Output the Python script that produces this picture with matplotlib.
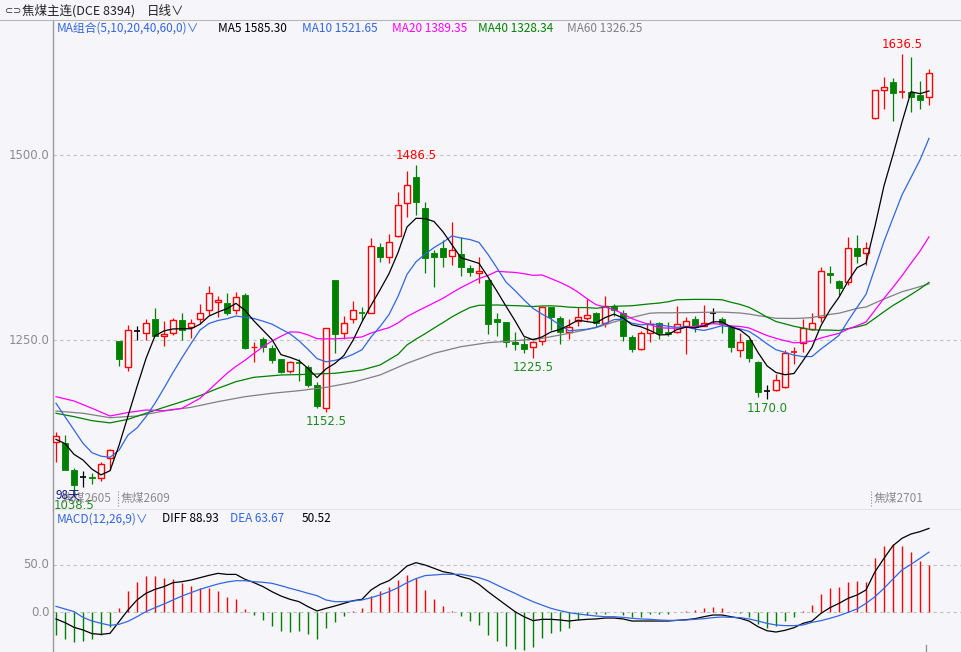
import matplotlib
matplotlib.use('Agg')
import matplotlib.pyplot as plt
from matplotlib.patches import Rectangle
import numpy as np

plt.rcParams['font.family'] = ['Noto Sans CJK SC', 'DejaVu Sans']

# ---------------- data ----------------
open_ = [1111.7, 1110.4, 1074.3, 1064.5, 1065.0, 1063.0, 1090.0, 1248.0, 1214.0, 1262.0,
         1259.0, 1278.4, 1255.0, 1259.0, 1277.0, 1267.0, 1279.0, 1290.5, 1301.0, 1299.6,
         1290.5, 1310.8, 1240.0, 1251.0, 1238.7, 1224.3, 1208.5, 1219.0, 1214.0, 1189.0,
         1158.0, 1331.0, 1259.0, 1278.0, 1286.5, 1287.0, 1376.0, 1362.6, 1391.0, 1435.6,
         1470.0, 1429.0, 1368.0, 1374.0, 1364.0, 1366.0, 1347.0, 1340.0, 1331.0, 1279.0,
         1274.0, 1247.7, 1244.6, 1241.0, 1248.6, 1294.0, 1280.0, 1261.0, 1275.7, 1280.0,
         1286.0, 1272.5, 1296.0, 1286.0, 1253.6, 1238.3, 1259.0, 1272.5, 1261.0, 1261.0,
         1269.4, 1278.4, 1269.4, 1286.0, 1279.0, 1269.0, 1236.5, 1250.0, 1220.7, 1181.5,
         1182.4, 1187.0, 1233.5, 1245.5, 1265.0, 1280.7, 1340.0, 1329.7, 1329.0, 1374.0,
         1367.0, 1550.4, 1587.8, 1599.0, 1584.5, 1584.7, 1581.0, 1579.0]
high = [1125.2, 1122.0, 1077.0, 1073.0, 1070.7, 1085.5, 1103.0, 1249.0, 1270.0, 1269.3,
        1279.0, 1292.8, 1275.7, 1280.0, 1286.0, 1278.0, 1298.6, 1323.0, 1309.5, 1313.0,
        1314.5, 1313.0, 1247.7, 1254.5, 1243.0, 1225.0, 1222.0, 1224.0, 1216.0, 1193.7,
        1266.0, 1331.0, 1282.4, 1302.7, 1295.0, 1387.4, 1380.7, 1393.0, 1450.4, 1478.4,
        1486.5, 1437.0, 1372.0, 1385.0, 1409.0, 1389.6, 1352.0, 1362.6, 1333.0, 1286.0,
        1275.0, 1261.0, 1254.5, 1249.0, 1295.0, 1295.0, 1282.0, 1278.0, 1294.0, 1305.0,
        1288.0, 1309.5, 1298.0, 1290.5, 1256.7, 1262.6, 1277.0, 1274.0, 1274.0, 1296.0,
        1281.5, 1283.0, 1297.0, 1292.8, 1281.0, 1270.0, 1259.0, 1251.0, 1222.0, 1189.0,
        1204.0, 1236.5, 1240.0, 1278.0, 1286.0, 1348.0, 1350.0, 1331.0, 1389.0, 1392.0,
        1383.0, 1588.5, 1605.0, 1604.5, 1636.5, 1633.0, 1600.0, 1616.0]
low = [1085.5, 1074.0, 1038.5, 1051.0, 1055.0, 1060.0, 1074.0, 1215.0, 1208.5, 1250.0,
       1250.0, 1255.0, 1242.0, 1256.7, 1250.0, 1253.0, 1271.6, 1284.0, 1281.5, 1284.0,
       1285.0, 1238.0, 1220.7, 1234.0, 1218.5, 1206.0, 1205.0, 1195.0, 1187.0, 1158.0,
       1152.5, 1233.0, 1251.0, 1272.5, 1277.0, 1286.0, 1356.0, 1354.5, 1389.0, 1416.0,
       1419.0, 1340.0, 1322.0, 1348.0, 1351.0, 1336.5, 1336.5, 1326.6, 1258.0, 1256.0,
       1241.0, 1236.5, 1232.0, 1225.5, 1243.0, 1263.5, 1244.0, 1252.0, 1269.0, 1277.0,
       1268.0, 1268.0, 1282.4, 1249.0, 1234.0, 1237.0, 1247.7, 1252.0, 1255.0, 1260.0,
       1231.0, 1261.0, 1269.0, 1272.5, 1260.0, 1234.0, 1227.6, 1220.7, 1172.5, 1170.0,
       1181.0, 1185.0, 1217.5, 1234.0, 1264.0, 1274.7, 1326.6, 1311.0, 1324.0, 1354.5,
       1352.0, 1549.0, 1562.0, 1546.4, 1577.4, 1558.5, 1562.0, 1567.6]
close = [1120.3, 1074.3, 1054.0, 1064.5, 1064.0, 1082.0, 1102.0, 1225.0, 1263.5, 1262.0,
         1272.5, 1255.8, 1257.7, 1276.6, 1263.5, 1272.5, 1286.0, 1313.0, 1304.0, 1286.0,
         1308.5, 1239.0, 1241.0, 1241.0, 1223.0, 1207.0, 1220.7, 1218.5, 1189.0, 1161.0,
         1265.7, 1258.0, 1272.5, 1290.5, 1286.0, 1377.0, 1362.6, 1382.0, 1432.4, 1459.5,
         1436.0, 1360.4, 1362.6, 1362.6, 1371.6, 1348.0, 1342.5, 1343.0, 1271.0, 1274.7,
         1247.0, 1244.6, 1237.4, 1247.7, 1294.0, 1280.7, 1261.0, 1267.0, 1281.5, 1284.0,
         1272.5, 1296.0, 1290.5, 1255.8, 1237.8, 1259.0, 1271.6, 1260.0, 1258.0, 1271.6,
         1275.7, 1267.0, 1272.5, 1286.0, 1271.6, 1241.0, 1247.0, 1226.0, 1180.0, 1181.5,
         1196.0, 1232.0, 1234.0, 1266.6, 1272.5, 1343.0, 1337.4, 1320.0, 1374.0, 1364.0,
         1374.0, 1587.8, 1592.3, 1583.4, 1584.7, 1579.0, 1575.0, 1610.4]

# moving-average values before enough bars exist in the window
ma5_head_idx = [0, 1, 2, 3]
ma5_head = [1115.7, 1110.0, 1095.5, 1087.8]
ma10_head_idx = [0, 1, 2, 3, 4, 5, 6, 7, 8]
ma10_head = [1164.5, 1146.4, 1128.4, 1110.4, 1097.7, 1093.0, 1091.5, 1101.0, 1121.6]
ma20_head_idx = [0, 2, 4, 6, 8, 10, 12, 14, 16, 18]
ma20_head = [1173.4, 1167.6, 1157.7, 1147.3, 1152.0, 1155.4, 1154.5, 1157.7, 1171.2, 1193.7]
ma40_head_idx = [0, 2, 4, 6, 8, 10, 12, 14, 16, 18, 20, 22, 25, 28, 31, 34, 36, 38]
ma40_head = [1151.0, 1146.4, 1141.0, 1138.0, 1142.8, 1151.0, 1159.0, 1166.7, 1174.8, 1184.7,
             1193.7, 1199.6, 1202.7, 1203.6, 1205.0, 1209.5, 1216.2, 1230.6]
ma60_head_idx = [0, 3, 6, 9, 12, 15, 18, 21, 24, 27, 30, 33, 36, 39, 42, 45, 48, 51, 54, 57]
ma60_head = [1154.0, 1151.0, 1145.0, 1147.3, 1154.0, 1159.0, 1166.7, 1173.4, 1178.0, 1181.5,
             1186.0, 1192.8, 1202.7, 1218.5, 1232.0, 1241.0, 1246.4, 1249.0, 1252.2, 1259.0]

diff = [-7.4, -11.3, -16.3, -19.1, -23.0, -23.8, -22.7, -10.3, 2.1, 12.8,
        19.9, 24.1, 27.0, 31.2, 32.3, 34.0, 36.5, 39.0, 41.1, 40.0,
        40.0, 34.8, 31.2, 27.0, 21.6, 17.0, 13.5, 11.0, 5.7, 1.1,
        3.9, 6.4, 9.2, 12.0, 13.5, 23.4, 29.4, 33.3, 40.4, 48.9,
        52.5, 50.0, 46.5, 42.9, 41.1, 37.6, 35.1, 29.4, 21.6, 14.5,
        7.4, 0.4, -5.0, -9.2, -7.8, -7.8, -8.5, -9.6, -8.5, -7.8,
        -7.4, -6.4, -6.4, -7.4, -9.6, -9.6, -9.6, -9.6, -9.6, -8.9,
        -8.2, -7.1, -5.0, -3.2, -3.2, -5.0, -6.7, -9.6, -15.6, -19.9,
        -21.3, -19.5, -16.7, -12.1, -9.6, -1.4, 4.6, 9.2, 14.5, 18.1,
        23.4, 42.9, 57.1, 70.6, 78.4, 83.0, 85.5, 88.93]
dea = [6.0, 3.2, 0.4, -5.7, -9.6, -12.0, -14.2, -13.1, -9.9, -5.0,
       0.4, 4.6, 8.5, 12.8, 17.0, 20.6, 24.1, 27.0, 29.8, 31.9,
       33.3, 33.3, 32.3, 31.6, 30.5, 28.0, 25.2, 22.7, 19.9, 17.4,
       12.8, 11.0, 11.0, 11.7, 12.8, 15.2, 18.1, 21.6, 25.9, 31.2,
       35.5, 38.7, 39.4, 40.1, 40.1, 40.1, 38.3, 36.5, 33.3, 28.7,
       24.1, 19.9, 15.2, 11.0, 7.4, 3.9, 1.4, -0.7, -2.1, -3.2,
       -4.3, -5.0, -5.0, -5.7, -6.7, -7.4, -7.8, -8.5, -8.9, -8.9,
       -8.5, -7.8, -7.1, -6.0, -5.3, -5.7, -6.0, -7.4, -9.6, -12.1,
       -13.8, -14.5, -14.5, -13.8, -11.0, -9.2, -6.7, -3.9, -0.4, 3.2,
       9.2, 16.3, 25.2, 35.1, 44.7, 50.7, 57.1, 63.67]
macd_hist = [-24.5, -28.7, -31.6, -30.5, -29.1, -24.5, -16.3, 3.9, 22.3, 31.6,
             38.3, 38.3, 36.5, 34.8, 31.2, 27.7, 25.2, 25.9, 22.3, 16.0,
             13.8, 3.2, -2.8, -8.5, -14.9, -19.9, -20.9, -19.9, -23.4, -28.7,
             -16.7, -10.3, -4.3, 1.4, 4.3, 17.0, 22.3, 26.6, 34.0, 39.4,
             36.2, 23.4, 13.8, 6.4, 1.4, -3.9, -9.2, -13.5, -24.1, -30.5,
             -36.2, -39.0, -40.4, -36.9, -27.3, -22.0, -19.9, -16.7, -8.2, -3.2,
             -2.1, -2.1, -0.5, -3.2, -5.7, -5.0, -2.1, -1.8, -2.1, 0.3,
             1.4, 1.8, 4.3, 5.3, 4.3, 0.4, -0.7, -5.0, -12.4, -16.7,
             -14.5, -9.2, -5.0, 1.1, 7.4, 19.1, 25.9, 27.0, 31.9, 32.6,
             31.9, 57.8, 70.2, 72.3, 70.2, 64.2, 54.3, 50.52]

price_ticks = [1500.0, 1250.0]
macd_ticks = [50.0, 0.0]
ma_legend_names = ['MA5', 'MA10', 'MA20', 'MA40', 'MA60']
ma_legend_values = [1585.30, 1521.65, 1389.35, 1328.34, 1326.25]
macd_legend_values = [88.93, 63.67, 50.52]
high_marks = [40, 94]
low_marks = [2, 30, 53, 79]

# ---------------- styling ----------------
BG = '#f5f5fa'
RED = '#ff0000'
GREEN = '#008000'
BLUE = '#3366e0'
MAG = '#ff00ff'
GRAY = '#808080'
AXC = '#9a9a9a'
TXT_GRAY = '#8c8c8c'

W, H = 962, 652
fig = plt.figure(figsize=(W / 100, H / 100), dpi=100)
fig.patch.set_facecolor(BG)

ax = fig.add_axes([53 / W, 1 - 510 / H, (W - 53) / W, (510 - 20) / H])
mx = fig.add_axes([53 / W, 0, (W - 53) / W, (652 - 510) / H])
for a in (ax, mx):
    a.set_facecolor(BG)
    a.set_xticks([])
    a.set_yticks([])
    for s in a.spines.values():
        s.set_visible(False)
    a.set_xlim(-1 / 3, 100 + 2 / 3)

# price scale: 1500 at y=155px, 1250 at y=340px
pp = 250 / 185
ax.set_ylim(1500 - (510 - 155) * pp, 1500 + (155 - 20) * pp)
mp = 50 / 47
mx.set_ylim(-(652 - 612) * mp, (612 - 510) * mp)

ax.spines['left'].set_visible(True)
ax.spines['left'].set_color(AXC)
ax.spines['bottom'].set_visible(True)
ax.spines['bottom'].set_color(AXC)
mx.spines['left'].set_visible(True)
mx.spines['left'].set_color(AXC)
for a in (ax, mx):
    for s in a.spines.values():
        s.set_linewidth(1.0)

# header line
fig.add_artist(plt.Line2D([0, 1], [1 - 20 / H, 1 - 20 / H], color='#b8b8b8', lw=0.8))

# grid
for t in price_ticks:
    ax.axhline(t, color='#c2c2c2', lw=0.8, ls=(0, (3, 3)), zorder=0)
    ax.text(-0.004, t, f'{t:.1f}', transform=ax.get_yaxis_transform(), ha='right', va='center',
            fontsize=8.5, color=TXT_GRAY, family=['DejaVu Sans'])
for t in macd_ticks:
    mx.axhline(t, color='#c2c2c2', lw=0.8, ls=(0, (3, 3)), zorder=0)
    mx.text(-0.004, t, f'{t:.1f}', transform=mx.get_yaxis_transform(), ha='right', va='center',
            fontsize=8.5, color=TXT_GRAY, family=['DejaVu Sans'])

# candles
bw = 0.74
N = len(close)
for i in range(N):
    o, h, l, c = open_[i], high[i], low[i], close[i]
    if c > o:
        col = RED
    elif c < o:
        col = GREEN
    else:
        col = 'black'
    top, bot = max(o, c), min(o, c)
    if h > top:
        ax.plot([i, i], [top, h], color=col, lw=0.9, zorder=3, solid_capstyle='butt')
    if bot > l:
        ax.plot([i, i], [l, bot], color=col, lw=0.9, zorder=3, solid_capstyle='butt')
    if top - bot < 1.0:
        ax.plot([i - bw / 2, i + bw / 2], [c, c], color=col, lw=1.2, zorder=4,
                solid_capstyle='butt')
    elif c > o:
        ax.add_patch(Rectangle((i - bw / 2, bot), bw, top - bot, facecolor=BG,
                               edgecolor=col, lw=1.0, zorder=4))
    else:
        ax.add_patch(Rectangle((i - bw / 2, bot), bw, top - bot, facecolor=col,
                               edgecolor=col, lw=0.6, zorder=4))

# moving averages
cl = np.array(close)


def ma_line(n, head_idx, head_val):
    comp_idx = np.arange(n - 1, N)
    comp_val = np.array([cl[j - n + 1:j + 1].mean() for j in comp_idx])
    return (np.concatenate([head_idx, comp_idx]),
            np.concatenate([head_val, comp_val]))


for n, hi, hv, col in [(60, ma60_head_idx, ma60_head, GRAY),
                       (40, ma40_head_idx, ma40_head, GREEN),
                       (20, ma20_head_idx, ma20_head, MAG),
                       (10, ma10_head_idx, ma10_head, BLUE),
                       (5, ma5_head_idx, ma5_head, 'black')]:
    xi, yv = ma_line(n, hi, hv)
    ax.plot(xi, yv, color=col, lw=0.9, zorder=5)

# high / low annotations
for i in high_marks:
    ax.annotate(f'{high[i]:.1f}', (i, high[i]), xytext=(0, 2), textcoords='offset points',
                ha='center', va='bottom', color=RED, fontsize=8.5, family=['DejaVu Sans'],
                zorder=6)
for i in low_marks:
    ax.annotate(f'{low[i]:.1f}', (i, low[i]), xytext=(0, -2), textcoords='offset points',
                ha='center', va='top', color='#1f8a1f', fontsize=8.5, family=['DejaVu Sans'],
                zorder=6)

# contract roll labels at bottom of price panel
ax.text(0.6, 0.024, '焦煤2605', transform=ax.get_xaxis_transform(), ha='left', va='center',
        fontsize=8.5, color=TXT_GRAY, zorder=6)
for xi, name in [(6.9, '焦煤2609'), (90.6, '焦煤2701')]:
    ax.plot([xi, xi], [0.008, 0.04], transform=ax.get_xaxis_transform(), color=TXT_GRAY,
            lw=0.8, ls=(0, (1, 1.5)), zorder=6)
    ax.text(xi + 0.25, 0.024, name, transform=ax.get_xaxis_transform(), ha='left', va='center',
            fontsize=8.5, color=TXT_GRAY, zorder=6)
ax.text(0.0, 0.03, '98天', transform=ax.get_xaxis_transform(), ha='left', va='center',
        fontsize=8.5, color='#1a1a8c', zorder=7)

# MACD
hc = [RED if v > 0 else GREEN for v in macd_hist]
mx.vlines(range(N), 0, macd_hist, colors=hc, lw=1.0, zorder=3)
mx.plot(range(N), diff, color='black', lw=0.9, zorder=4)
mx.plot(range(N), dea, color=BLUE, lw=0.9, zorder=4)
mx.plot([96.7, 96.7], [-42.6, -35.5], color=TXT_GRAY, lw=0.9)

# header texts
fig.text(5 / W, 1 - 11 / H, '⊂⊃', ha='left', va='center', fontsize=7, color='#333333',
         family=['DejaVu Sans'])
fig.text(22 / W, 1 - 11 / H, '焦煤主连(DCE 8394)', ha='left', va='center', fontsize=9,
         color='#222222')
fig.text(147 / W, 1 - 11 / H, '日线∨', ha='left', va='center', fontsize=9, color='#222222')

ly = 1 - 28 / H
fig.text(57 / W, ly, 'MA组合(5,10,20,40,60,0)∨', ha='left', va='center', fontsize=8.5,
         color=BLUE)
for xp, name, val, col in zip([218, 302, 392, 478, 567], ma_legend_names, ma_legend_values,
                              ['black', BLUE, MAG, GREEN, GRAY]):
    fig.text(xp / W, ly, f'{name} {val:.2f}', ha='left', va='center', fontsize=8.5, color=col)

my = 1 - 519 / H
fig.text(57 / W, my, 'MACD(12,26,9)∨', ha='left', va='center', fontsize=8.5, color=BLUE)
fig.text(162 / W, my, f'DIFF {macd_legend_values[0]:.2f}', ha='left', va='center',
         fontsize=8.5, color='black')
fig.text(230 / W, my, f'DEA {macd_legend_values[1]:.2f}', ha='left', va='center',
         fontsize=8.5, color=BLUE)
fig.text(302 / W, my, f'{macd_legend_values[2]:.2f}', ha='left', va='center',
         fontsize=8.5, color='black')

fig.savefig('out.png', dpi=100, facecolor=BG)
